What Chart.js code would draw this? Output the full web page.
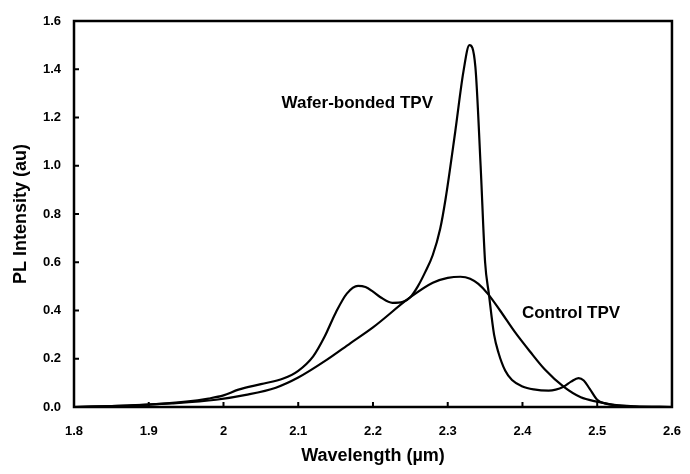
<!DOCTYPE html>
<html>
<head>
<meta charset="utf-8">
<script src="https://cdn.jsdelivr.net/npm/chart.js@4.4.0/dist/chart.umd.min.js"></script>
<style>
  body { margin: 0; background: #fff; }
  #wrap { width: 690px; height: 474px; }
</style>
</head>
<body>
<div id="wrap"><canvas id="plChart" width="690" height="474"></canvas></div>
<script>
// wafer-bonded TPV - wavelength (um) / PL intensity
const waferX = [1.80, 1.85, 1.90, 1.95, 1.98, 2.00, 2.02, 2.05, 2.08, 2.10, 2.12, 2.135, 2.15, 2.165, 2.18, 2.19, 2.20, 2.21, 2.226, 2.24, 2.25, 2.26, 2.27, 2.28, 2.29, 2.297, 2.31, 2.321, 2.329, 2.337, 2.344, 2.35, 2.355, 2.362, 2.368, 2.377, 2.386, 2.40, 2.415, 2.435, 2.455, 2.465, 2.475, 2.482, 2.49, 2.50, 2.51, 2.53, 2.55, 2.60];
const waferY = [0.000, 0.004, 0.010, 0.022, 0.035, 0.048, 0.072, 0.095, 0.118, 0.150, 0.210, 0.290, 0.390, 0.470, 0.502, 0.497, 0.478, 0.455, 0.432, 0.436, 0.455, 0.50, 0.56, 0.63, 0.74, 0.86, 1.14, 1.39, 1.50, 1.41, 1.00, 0.60, 0.47, 0.30, 0.224, 0.150, 0.112, 0.085, 0.073, 0.068, 0.084, 0.105, 0.120, 0.110, 0.075, 0.030, 0.015, 0.006, 0.002, 0.000];

// control TPV
const controlX = [1.80, 1.87, 1.93, 1.99, 2.03, 2.07, 2.10, 2.138, 2.17, 2.20, 2.25, 2.28, 2.30, 2.317, 2.33, 2.341, 2.354, 2.37, 2.39, 2.41, 2.43, 2.455, 2.478, 2.50, 2.52, 2.55, 2.60];
const controlY = [0.000, 0.006, 0.015, 0.030, 0.050, 0.080, 0.122, 0.195, 0.265, 0.330, 0.455, 0.515, 0.535, 0.540, 0.532, 0.510, 0.468, 0.400, 0.310, 0.230, 0.155, 0.084, 0.040, 0.022, 0.010, 0.003, 0.000];

// axis ticks
const xTicks = [1.8, 1.9, 2.0, 2.1, 2.2, 2.3, 2.4, 2.5, 2.6];
const yTicks = [0.0, 0.2, 0.4, 0.6, 0.8, 1.0, 1.2, 1.4, 1.6];

// text labels inside the plot: [text, x, y]
const curveLabels = [
    ['Wafer-bonded TPV', 2.179, 1.257],
    ['Control TPV', 2.465, 0.39]
];

const boldFont = 'Liberation Sans, Arial, sans-serif';

function toPoints(xs, ys) {
    return xs.map((x, i) => ({ x: x, y: ys[i] }));
}

// frame, inward ticks and curve labels
const framePlugin = {
    id: 'frame',
    afterDraw(chart) {
        const ctx = chart.ctx;
        const a = chart.chartArea;
        const xs = chart.scales.x;
        const ys = chart.scales.y;
        ctx.save();
        ctx.strokeStyle = '#000';
        ctx.lineWidth = 2.5;
        ctx.strokeRect(a.left, a.top, a.right - a.left, a.bottom - a.top);

        ctx.lineWidth = 2;
        ctx.beginPath();
        xTicks.forEach(v => {
            const px = xs.getPixelForValue(v);
            ctx.moveTo(px, a.bottom);
            ctx.lineTo(px, a.bottom - 5);
        });
        yTicks.forEach(v => {
            const py = ys.getPixelForValue(v);
            ctx.moveTo(a.left, py);
            ctx.lineTo(a.left + 5, py);
        });
        ctx.stroke();

        ctx.fillStyle = '#000';
        ctx.font = 'bold 17px ' + boldFont;
        ctx.textAlign = 'center';
        ctx.textBaseline = 'middle';
        curveLabels.forEach(l => {
            ctx.fillText(l[0], xs.getPixelForValue(l[1]), ys.getPixelForValue(l[2]));
        });
        ctx.restore();
    }
};

const ctx = document.getElementById('plChart').getContext('2d');
const plChart = new Chart(ctx, {
    type: 'line',
    data: {
        datasets: [{
            label: 'Wafer-bonded TPV',
            data: toPoints(waferX, waferY),
            borderColor: '#000',
            borderWidth: 2.2,
            pointRadius: 0,
            cubicInterpolationMode: 'monotone'
        }, {
            label: 'Control TPV',
            data: toPoints(controlX, controlY),
            borderColor: '#000',
            borderWidth: 2.2,
            pointRadius: 0,
            cubicInterpolationMode: 'monotone'
        }]
    },
    options: {
        responsive: false,
        animation: false,
        layout: { padding: { top: 21, right: 16, left: 0, bottom: 0 } },
        plugins: {
            legend: { display: false },
            tooltip: { enabled: false }
        },
        scales: {
            x: {
                type: 'linear',
                min: 1.8,
                max: 2.6,
                afterFit(scale) { scale.height = 67; },
                afterBuildTicks(scale) { scale.ticks = xTicks.map(v => ({ value: v })); },
                grid: { display: false },
                border: { display: false },
                ticks: {
                    color: '#000',
                    padding: 9,
                    font: { family: boldFont, size: 13, weight: 'bold' },
                    callback: v => String(+v.toFixed(1))
                },
                title: {
                    display: true,
                    text: 'Wavelength (\u00b5m)',
                    color: '#000',
                    padding: { top: 4, bottom: 7 },
                    font: { family: boldFont, size: 18, weight: 'bold' }
                }
            },
            y: {
                min: 0,
                max: 1.6,
                afterFit(scale) { scale.width = 74; },
                afterBuildTicks(scale) { scale.ticks = yTicks.map(v => ({ value: v })); },
                grid: { display: false },
                border: { display: false },
                ticks: {
                    color: '#000',
                    padding: 5,
                    font: { family: boldFont, size: 13, weight: 'bold' },
                    callback: v => v.toFixed(1)
                },
                title: {
                    display: true,
                    text: 'PL Intensity (au)',
                    color: '#000',
                    padding: { top: 10, bottom: 4 },
                    font: { family: boldFont, size: 18, weight: 'bold' }
                }
            }
        }
    },
    plugins: [framePlugin]
});
</script>
</body>
</html>
